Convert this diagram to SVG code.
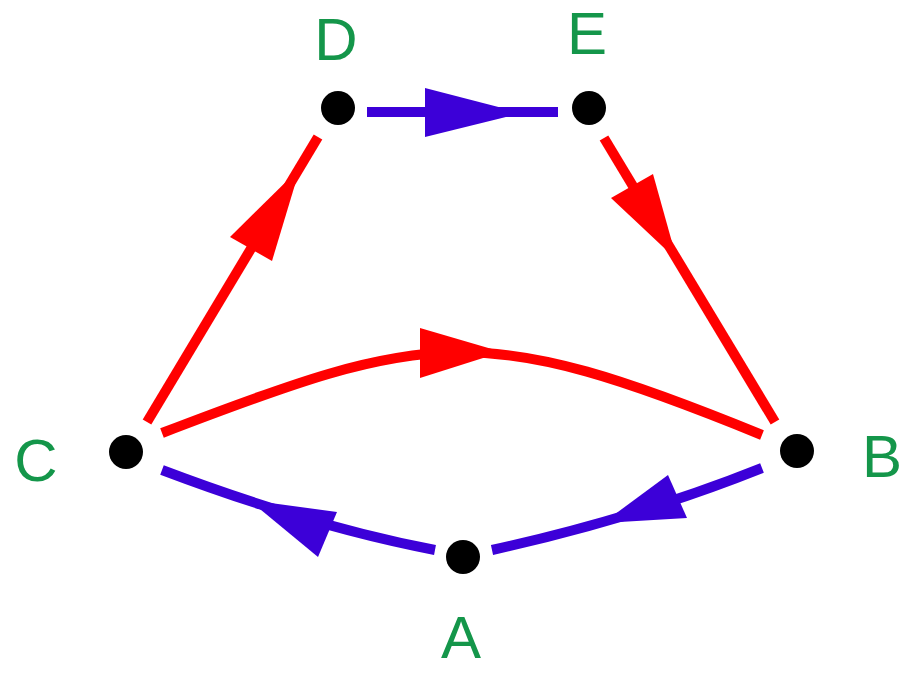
<svg xmlns="http://www.w3.org/2000/svg" width="904" height="673" viewBox="0 0 904 673">
<style>
.red{stroke:#ff0000;stroke-width:10;fill:none}
.blue{stroke:#3c00d8;stroke-width:10;fill:none}
.rh{fill:#ff0000}
.bh{fill:#3c00d8}
.dot{fill:#000}
.lbl{font-family:"Liberation Sans",Arial,sans-serif;font-size:60px;fill:#14964a;text-anchor:middle}
</style>
<rect width="904" height="673" fill="#fff"/>
<g id="connectors">
<line class="blue" x1="367" y1="112" x2="558" y2="112"/>
<polygon class="bh" points="425,88 425,137 522,113"/>
<line class="red" x1="147" y1="422" x2="318" y2="137"/>
<polygon class="rh" points="230,237 272,261 300,168"/>
<line class="red" x1="604" y1="138" x2="775" y2="422"/>
<polygon class="rh" points="611,198 653,174 677,260"/>
<path class="red" d="M162,433 C430,330 480,320 762,435"/>
<polygon class="rh" points="420,328 420,378 502,352"/>
<path class="blue" d="M762,468 Q637,518 492,550"/>
<polygon class="bh" points="668,475 687,518 603,523"/>
<path class="blue" d="M435,550 Q310,526 162,470"/>
<polygon class="bh" points="337,512 318,557 249,500"/>
</g>
<g id="node-D"><circle class="dot" cx="338" cy="108" r="17"/><text class="lbl" x="336" y="60">D</text></g>
<g id="node-E"><circle class="dot" cx="589" cy="108" r="17"/><text class="lbl" x="587" y="54">E</text></g>
<g id="node-C"><circle class="dot" cx="126" cy="452" r="17"/><text class="lbl" x="36" y="481">C</text></g>
<g id="node-B"><circle class="dot" cx="797" cy="451" r="17"/><text class="lbl" x="882" y="477">B</text></g>
<g id="node-A"><circle class="dot" cx="463" cy="557" r="17"/><text class="lbl" x="461" y="658">A</text></g>
</svg>
